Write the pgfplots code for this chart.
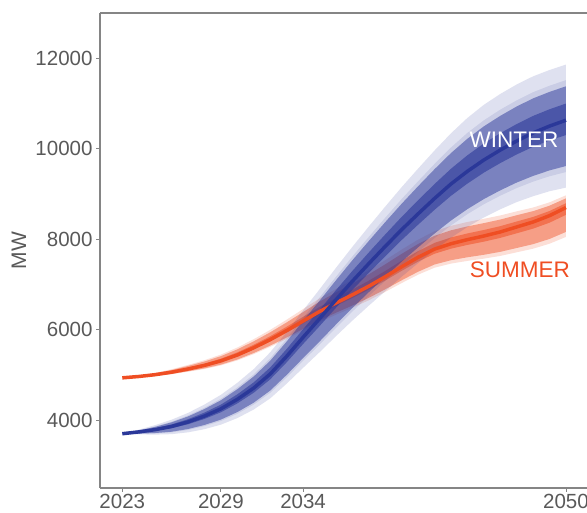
\documentclass[border=0pt]{standalone}
\usepackage{fontspec}
\setmainfont{Liberation Sans}
\usepackage{pgfplots}
\pgfplotsset{compat=1.18}
\usepackage{pgfplotstable}
\usepgfplotslibrary{fillbetween}
\definecolor{wnavy}{HTML}{2B3899}
\definecolor{sorange}{HTML}{EF4E23}
\definecolor{axgray}{HTML}{858585}
\definecolor{txtgray}{HTML}{595959}

\pgfplotstableread{
year oh ol sh sl mh ml dh dl med
2023 3700 3700 3700 3700 3700 3700 3700 3700 3700
2024 3790 3685 3776 3698 3771 3703 3755 3728 3740
2025 3890 3680 3862 3705 3851 3715 3820 3766 3790
2026 4010 3690 3968 3729 3952 3744 3905 3823 3860
2027 4160 3730 4104 3783 4082 3804 4020 3909 3960
2028 4345 3800 4274 3867 4246 3893 4167 4026 4090
2029 4560 3900 4473 3980 4439 4012 4343 4173 4250
2030 4825 4045 4723 4140 4683 4178 4570 4369 4460
2031 5130 4235 5012 4344 4966 4387 4836 4606 4710
2032 5500 4480 5366 4604 5313 4653 5164 4901 5020
2033 5945 4805 5795 4944 5736 4999 5571 5277 5410
2034 6425 5155 6258 5310 6193 5371 6009 5682 5830
2035 6890 5500 6708 5670 6637 5737 6435 6077 6240
2036 7365 5855 7168 6040 7090 6113 6872 6483 6660
2037 7830 6200 7617 6400 7534 6478 7298 6879 7070
2038 8280 6530 8050 6744 7960 6828 7706 7255 7460
2039 8720 6850 8474 7078 8377 7167 8104 7622 7840
2040 9150 7170 8887 7409 8783 7503 8492 7981 8210
2041 9560 7470 9280 7721 9170 7819 8860 8320 8560
2042 9960 7760 9663 8022 9547 8125 9218 8649 8900
2043 10340 8030 10026 8304 9903 8411 9556 8958 9220
2044 10680 8270 10350 8553 10220 8664 9854 9229 9500
2045 10970 8480 10628 8772 10494 8886 10116 9471 9750
2046 11210 8660 10863 8961 10726 9079 10342 9682 9970
2047 11420 8820 11070 9130 10933 9252 10545 9873 10170
2048 11600 8950 11250 9272 11113 9398 10725 10042 10350
2049 11740 9060 11393 9391 11256 9521 10872 10183 10500
2050 11860 9140 11516 9483 11380 9617 10999 10302 10630
}\winter

\pgfplotstableread{
year oh ol mh ml dh dl med
2023 4935 4935 4935 4935 4935 4935 4935
2024 4985 4950 4980 4953 4972 4961 4965
2025 5045 4975 5035 4980 5019 4998 5005
2026 5125 5015 5109 5023 5083 5049 5060
2027 5220 5070 5198 5080 5162 5115 5130
2028 5325 5130 5296 5144 5250 5190 5210
2029 5450 5210 5415 5227 5359 5285 5310
2030 5605 5320 5564 5340 5498 5410 5440
2031 5790 5460 5743 5484 5667 5565 5600
2032 5995 5620 5941 5647 5855 5740 5780
2033 6220 5795 6160 5826 6064 5934 5980
2034 6455 5980 6389 6016 6283 6138 6190
2035 6690 6165 6618 6205 6502 6341 6400
2036 6900 6330 6823 6374 6699 6525 6590
2037 7100 6485 7018 6533 6886 6699 6770
2038 7310 6650 7223 6703 7083 6883 6960
2039 7535 6835 7444 6892 7298 7086 7170
2040 7770 7030 7675 7091 7523 7300 7390
2041 7990 7215 7893 7280 7737 7504 7600
2042 8175 7370 8076 7440 7918 7678 7780
2043 8295 7460 8196 7535 8038 7790 7900
2044 8380 7520 8283 7600 8127 7873 7990
2045 8450 7570 8355 7655 8203 7945 8070
2046 8525 7630 8434 7720 8288 8028 8160
2047 8615 7710 8529 7805 8391 8130 8270
2048 8700 7790 8620 7890 8492 8233 8380
2049 8815 7900 8741 8005 8623 8365 8520
2050 8970 8050 8903 8161 8795 8538 8700
}\summer

\begin{document}
\begin{tikzpicture}
\begin{axis}[
  scale only axis, width=487pt, height=475pt,
  xmin=2021.643, xmax=2051.28, ymin=2500, ymax=13000,
  axis lines*=left,
  axis line style={-, draw=axgray, line width=1.3pt},
  xtick={2023,2029,2034,2050}, xticklabels={2023,2029,2034,2050},
  ytick={4000,6000,8000,10000,12000},
  yticklabels={4000,6000,8000,10000,12000},
  tick align=outside, major tick length=4pt,
  tick style={draw=axgray, line width=0.8pt},
  ticklabel style={font=\fontsize{20.5}{24}\selectfont, text=txtgray},
  xticklabel style={yshift=1pt},
]
\coordinate (ll) at (rel axis cs:0,0);
\coordinate (ur) at (rel axis cs:1,1);
\coordinate (lm) at (rel axis cs:0,0.5);
\draw[axgray, line width=1.3pt] (rel axis cs:0,1) -- (rel axis cs:1,1);

% summer
\addplot[draw=none, name path=sOH, forget plot] table[x=year,y=oh]{\summer};
\addplot[draw=none, name path=sOL, forget plot] table[x=year,y=ol]{\summer};
\addplot[draw=none, name path=sMH, forget plot] table[x=year,y=mh]{\summer};
\addplot[draw=none, name path=sML, forget plot] table[x=year,y=ml]{\summer};
\addplot[draw=none, name path=sDH, forget plot] table[x=year,y=dh]{\summer};
\addplot[draw=none, name path=sDL, forget plot] table[x=year,y=dl]{\summer};
\addplot[fill=sorange, fill opacity=0.18, draw=none] fill between[of=sOH and sOL];
\addplot[fill=sorange, fill opacity=0.45, draw=none] fill between[of=sMH and sML];
\addplot[fill=sorange, fill opacity=0.55, draw=none] fill between[of=sDH and sDL];
\addplot[sorange, line width=3.5pt] table[x=year,y=med]{\summer};

% winter
\addplot[draw=none, name path=wOH, forget plot] table[x=year,y=oh]{\winter};
\addplot[draw=none, name path=wOL, forget plot] table[x=year,y=ol]{\winter};
\addplot[draw=none, name path=wSH, forget plot] table[x=year,y=sh]{\winter};
\addplot[draw=none, name path=wSL, forget plot] table[x=year,y=sl]{\winter};
\addplot[draw=none, name path=wMH, forget plot] table[x=year,y=mh]{\winter};
\addplot[draw=none, name path=wML, forget plot] table[x=year,y=ml]{\winter};
\addplot[draw=none, name path=wDH, forget plot] table[x=year,y=dh]{\winter};
\addplot[draw=none, name path=wDL, forget plot] table[x=year,y=dl]{\winter};
\addplot[fill=wnavy, fill opacity=0.15, draw=none] fill between[of=wOH and wOL];
\addplot[fill=wnavy, fill opacity=0.12, draw=none] fill between[of=wSH and wSL];
\addplot[fill=wnavy, fill opacity=0.50, draw=none] fill between[of=wMH and wML];
\addplot[fill=wnavy, fill opacity=0.60, draw=none] fill between[of=wDH and wDL];
\addplot[wnavy, line width=3.5pt] table[x=year,y=med]{\winter};

\node[text=white, font=\fontsize{22.5}{26}\selectfont] at (axis cs:2046.84,10190) {WINTER};
\node[text=sorange, font=\fontsize{22.5}{26}\selectfont] at (axis cs:2047.2,7316) {SUMMER};
\end{axis}
\node[rotate=90, text=txtgray, font=\fontsize{21}{24}\selectfont] at ([xshift=-81pt]lm) {MW};
\pgfresetboundingbox
\path ([xshift=-100pt,yshift=-24pt]ll) rectangle ([yshift=13pt]ur);
\end{tikzpicture}
\end{document}
